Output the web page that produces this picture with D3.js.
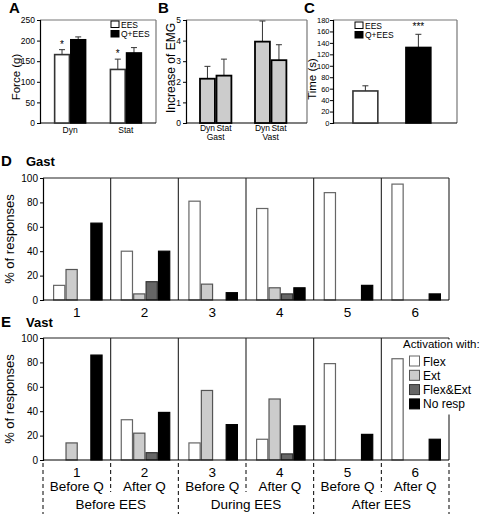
<!DOCTYPE html>
<html><head><meta charset="utf-8">
<script src="https://cdn.jsdelivr.net/npm/d3@7"></script>
<style>
body{margin:0;background:#fff;}
svg{font-family:"Liberation Sans",Arial,sans-serif;}
</style></head>
<body>
<svg id="c" width="480" height="514"></svg>
<script>
// ---- DATA ----
const aGroups = ["Dyn","Stat"];
const aSeries = ["EES","Q+EES"];
const aValues = [[166,202],[130,170]];
const aErrors = [[12,7],[25,13]];
const aTicks = [0,50,100,150,200,250];

const bGroups = ["Gast","Vast"];
const bSeries = ["Dyn","Stat"];
const bValues = [[2.15,2.3],[3.95,3.05]];
const bErrors = [[0.6,0.8],[1.0,0.75]];
const bTicks = [0,1,2,3,4,5];

const cSeries = ["EES","Q+EES"];
const cValues = [56,132];
const cErrors = [9,23];
const cTicks = [0,20,40,60,80,100,120,140,160,180];

const respSeries = ["Flex","Ext","Flex&Ext","No resp"];
const groups = ["1","2","3","4","5","6"];
const gastValues = [[12,25,0,63],[40,5,15,40],[81,13,0,6],[75,10,5,10],[88,0,0,12],[95,0,0,5]];
const vastValues = [[0,14,0,86],[33,22,6,39],[14,57,0,29],[17,50,5,28],[79,0,0,21],[83,0,0,17]];
const pctTicks = [0,20,40,60,80,100];
const phaseLabels = ["Before Q","After Q","Before Q","After Q","Before Q","After Q"];
const periodLabels = ["Before EES","During EES","After EES"];

// ---- DRAW ----
const svg = d3.select("#c");
const FONT = "Liberation Sans, Arial, sans-serif";

function letter(x,y,t){svg.append("text").attr("x",x).attr("y",y).attr("font-size",15).attr("font-weight","bold").text(t);}

function yAxis(scale, x, ticks, fs, pad){
  const g = svg.append("g").attr("transform",`translate(${x},0)`)
    .call(d3.axisLeft(scale).tickValues(ticks).tickSize(3).tickPadding(pad===undefined?2:pad).tickFormat(d3.format("d")));
  g.selectAll("text").attr("font-size",fs).attr("font-family",FONT).attr("fill","#000");
  g.selectAll("line,path").attr("stroke","#000");
  g.select(".domain").attr("stroke-width",1.2);
  return g;
}
function frame(x0,x1,y0,y1){
  svg.append("line").attr("x1",x0).attr("x2",x1).attr("y1",y0).attr("y2",y0).attr("stroke","#777").attr("stroke-width",1.2);
  svg.append("line").attr("x1",x1).attr("x2",x1).attr("y1",y0).attr("y2",y1).attr("stroke","#777").attr("stroke-width",1.2);
  svg.append("line").attr("x1",x0).attr("x2",x1).attr("y1",y1).attr("y2",y1).attr("stroke","#000").attr("stroke-width",1.2);
}
function errBar(cx,yTop,yErr){
  svg.append("line").attr("x1",cx).attr("x2",cx).attr("y1",yTop).attr("y2",yErr).attr("stroke","#333").attr("stroke-width",1);
  svg.append("line").attr("x1",cx-3).attr("x2",cx+3).attr("y1",yErr).attr("y2",yErr).attr("stroke","#333").attr("stroke-width",1);
}
function yLabel(x,y,t,fs){
  svg.append("text").attr("transform",`translate(${x},${y}) rotate(-90)`).attr("text-anchor","middle").attr("font-size",fs).text(t);
}

// Panel A
{
  const y = d3.scaleLinear().domain([0,250]).range([123,20]);
  const xg = d3.scaleBand().domain(aGroups).range([40,156]).paddingInner(0.42).paddingOuter(0.25);
  const xs = d3.scaleBand().domain(aSeries).range([0,xg.bandwidth()]);
  frame(40,156,20,123);
  aGroups.forEach((g,gi)=>{
    aSeries.forEach((s,si)=>{
      const v=aValues[gi][si], e=aErrors[gi][si];
      const x=xg(g)+xs(s);
      errBar(x+xs.bandwidth()/2, y(v), y(v+e));
      svg.append("rect").attr("x",x+0.7).attr("y",y(v)).attr("width",xs.bandwidth()-1.4).attr("height",y(0)-y(v))
        .attr("fill",si===0?"#fff":"#000").attr("stroke",si===0?"#333":"#000").attr("stroke-width",1.6);
    });
    svg.append("text").attr("x",xg(g)+xs("EES")+xs.bandwidth()/2).attr("y",y(aValues[gi][0]+aErrors[gi][0])-2)
      .attr("text-anchor","middle").attr("font-size",10).text("*");
    svg.append("text").attr("x",xg(g)+xg.bandwidth()/2).attr("y",133).attr("text-anchor","middle").attr("font-size",8.5).text(g);
  });
  yAxis(y,40,aTicks,8.5);
  yLabel(20,77,"Force (g)",11.5);
  letter(9,13,"A");
  aSeries.forEach((s,i)=>{
    svg.append("rect").attr("x",111).attr("y",21+i*9.5).attr("width",8).attr("height",6.5)
      .attr("fill",i===0?"#fff":"#000").attr("stroke","#000").attr("stroke-width",1);
    svg.append("text").attr("x",121).attr("y",27.5+i*9.5).attr("font-size",8.5).text(s);
  });
}

// Panel B
{
  const y = d3.scaleLinear().domain([0,5]).range([123,20]);
  const xg = d3.scaleBand().domain(bGroups).range([186,307]).paddingInner(0.4).paddingOuter(0.3).align(0.4);
  const xs = d3.scaleBand().domain(bSeries).range([0,xg.bandwidth()]);
  frame(186,307,20,123);
  bGroups.forEach((g,gi)=>{
    bSeries.forEach((s,si)=>{
      const v=bValues[gi][si], e=bErrors[gi][si];
      const x=xg(g)+xs(s);
      errBar(x+xs.bandwidth()/2, y(v), y(v+e));
      svg.append("rect").attr("x",x+0.8).attr("y",y(v)).attr("width",xs.bandwidth()-1.6).attr("height",y(0)-y(v))
        .attr("fill","#cccccc").attr("stroke","#000").attr("stroke-width",1.8);
      svg.append("text").attr("x",x+xs.bandwidth()/2).attr("y",131).attr("text-anchor","middle").attr("font-size",8.5).text(s);
    });
    svg.append("text").attr("x",xg(g)+xg.bandwidth()/2).attr("y",140).attr("text-anchor","middle").attr("font-size",8.5).text(g);
  });
  yAxis(y,186,bTicks,8.5);
  yLabel(175,68,"Increase of EMG",12);
  letter(158,13,"B");
}

// Panel C
{
  const y = d3.scaleLinear().domain([0,180]).range([123,20]);
  const x = d3.scaleBand().domain(cSeries).range([333,457]).paddingInner(0.5).paddingOuter(0.42).align(0.43);
  frame(333,457,20,123);
  cSeries.forEach((s,i)=>{
    const v=cValues[i], e=cErrors[i];
    errBar(x(s)+x.bandwidth()/2, y(v), y(v+e));
    svg.append("rect").attr("x",x(s)+0.8).attr("y",y(v)).attr("width",x.bandwidth()-1.6).attr("height",y(0)-y(v))
      .attr("fill",i===0?"#fff":"#000").attr("stroke",i===0?"#333":"#000").attr("stroke-width",1.6);
  });
  svg.append("text").attr("x",x("Q+EES")+x.bandwidth()/2).attr("y",y(cValues[1]+cErrors[1])-4).attr("text-anchor","middle").attr("font-size",10).text("***");
  yAxis(y,333,cTicks,7.5,0.5);
  yLabel(316,79,"Time (s)",11.5);
  letter(304,13,"C");
  cSeries.forEach((s,i)=>{
    svg.append("rect").attr("x",355).attr("y",22+i*9.5).attr("width",8).attr("height",6.5)
      .attr("fill",i===0?"#fff":"#000").attr("stroke","#000").attr("stroke-width",1);
    svg.append("text").attr("x",365).attr("y",28.5+i*9.5).attr("font-size",8.5).text(s);
  });
}

// Panels D & E
const fills = ["#ffffff","#cccccc","#666666","#000000"];
const strokes = ["#666","#555","#333","#000"];
const xg = d3.scaleBand().domain(groups).range([43,449]);
const xs = d3.scaleBand().domain(respSeries).range([10,xg.bandwidth()-8]);

function respPanel(values, top, bottom){
  const y = d3.scaleLinear().domain([0,100]).range([bottom,top]);
  groups.forEach((g,gi)=>{
    respSeries.forEach((s,si)=>{
      const v=values[gi][si];
      if(v<=0) return;
      svg.append("rect").attr("x",xg(g)+xs(s)+0.6).attr("y",y(v)).attr("width",xs.bandwidth()-1.2).attr("height",y(0)-y(v))
        .attr("fill",fills[si]).attr("stroke",strokes[si]).attr("stroke-width",1.2);
    });
  });
  groups.slice(1).forEach(g=>{
    svg.append("line").attr("x1",xg(g)).attr("x2",xg(g)).attr("y1",top).attr("y2",bottom).attr("stroke","#222").attr("stroke-width",1.1);
  });
  svg.append("line").attr("x1",449).attr("x2",449).attr("y1",top).attr("y2",bottom).attr("stroke","#222").attr("stroke-width",1.1);
  svg.append("line").attr("x1",43).attr("x2",449).attr("y1",bottom).attr("y2",bottom).attr("stroke","#000").attr("stroke-width",1.2);
  yAxis(y,43,pctTicks,10);
  yLabel(14,(top+bottom)/2,"% of responses",13);
  return y;
}
function topLine(top){
  svg.append("line").attr("x1",43).attr("x2",449).attr("y1",top).attr("y2",top).attr("stroke","#222").attr("stroke-width",1.1);
}

respPanel(gastValues,178,300);
topLine(178);
svg.append("text").attr("x",1).attr("y",166).attr("font-size",15).attr("font-weight","bold").text("D");
svg.append("text").attr("x",26).attr("y",166).attr("font-size",13).attr("font-weight","bold").text("Gast");
groups.forEach(g=>{
  svg.append("text").attr("x",xg(g)+xg.bandwidth()/2).attr("y",317).attr("text-anchor","middle").attr("font-size",13.5).text(g);
});

respPanel(vastValues,338,460);
svg.append("text").attr("x",1).attr("y",327).attr("font-size",15).attr("font-weight","bold").text("E");
svg.append("text").attr("x",26).attr("y",327).attr("font-size",13).attr("font-weight","bold").text("Vast");

// Legend E (white background hides the frame's upper right edge)
svg.append("rect").attr("x",404).attr("y",339.5).attr("width",76).attr("height",75).attr("fill","#fff");
topLine(338);
svg.append("text").attr("x",403).attr("y",348).attr("font-size",11.5).text("Activation with:");
respSeries.forEach((s,i)=>{
  svg.append("rect").attr("x",409.5).attr("y",356+i*14.3).attr("width",10).attr("height",10)
    .attr("fill",fills[i]).attr("stroke",strokes[i]).attr("stroke-width",1);
  svg.append("text").attr("x",423).attr("y",365.5+i*14.3).attr("font-size",12).text(s);
});

// Labels under E
groups.forEach((g,i)=>{
  const cx = xg(g)+xg.bandwidth()/2;
  svg.append("text").attr("x",cx).attr("y",477).attr("text-anchor","middle").attr("font-size",13.5).text(g);
  svg.append("text").attr("x",cx).attr("y",491).attr("text-anchor","middle").attr("font-size",13.5).text(phaseLabels[i]);
});
periodLabels.forEach((p,i)=>{
  const cx = xg(groups[i*2+1]);
  svg.append("text").attr("x",cx).attr("y",509).attr("text-anchor","middle").attr("font-size",13.5).text(p);
});
groups.concat(["end"]).forEach((g,i)=>{
  const x = i<6 ? xg(g) : 449;
  const outer = i%2===0;
  svg.append("line").attr("x1",x).attr("x2",x).attr("y1",463).attr("y2",outer?514:492)
    .attr("stroke","#000").attr("stroke-width",1).attr("stroke-dasharray","4,3");
});
</script>
</body></html>
